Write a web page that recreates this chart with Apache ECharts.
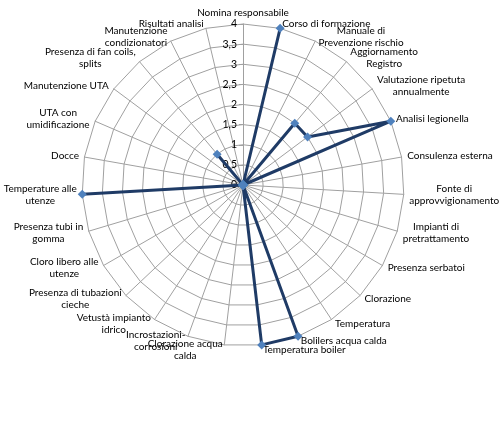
<!DOCTYPE html>
<html>
<head>
    <meta charset="utf-8">
    <title>Radar</title>
    <script src="https://cdn.jsdelivr.net/npm/echarts@6/dist/echarts.min.js"></script>
    <style>
        html, body { margin: 0; padding: 0; background: #fff; }
    </style>
</head>
<body>
    <div id="main" style="width: 500px;height:429px;"></div>
    <script type="text/javascript">
    // voci del radar, in senso orario partendo dall'alto
    var categories = [
        'Nomina responsabile', 'Corso di formazione', 'Manuale di\nPrevenzione rischio',
        'Aggiornamento\nRegistro', 'Valutazione ripetuta\nannualmente', 'Analisi legionella',
        'Consulenza esterna', 'Fonte di\napprovvigionamento', 'Impianti di\npretrattamento',
        'Presenza serbatoi', 'Clorazione', 'Temperatura', 'Bolilers acqua calda',
        'Temperatura boiler', 'Clorazione acqua\ncalda', 'Incrostazioni-\ncorrosioni',
        'Vetustà impianto\nidrico', 'Presenza di tubazioni\ncieche', 'Cloro libero alle\nutenze',
        'Presenza tubi in\ngomma', 'Temperature alle\nutenze', 'Docce', 'UTA con\numidificazione',
        'Manutenzione UTA', 'Presenza di fan coils,\nsplits', 'Manutenzione\ncondizionatori',
        'Risultati analisi'
    ];
    var values = [0, 4, 0, 2, 2, 4, 0, 0, 0, 0, 0, 0, 4, 4, 0, 0, 0, 0, 0, 0, 4, 0, 0, 0, 1, 0, 0];
    var axisMin = 0;
    var axisMax = 4;
    var steps = 8; // 0, 0,5, 1 ... 4

    var fontName = 'Lato';
    var fontSize = 10;
    var gridColor = '#a0a0a0';

    var myChart = echarts.init(document.getElementById('main'));

    // il radar di echarts gira in senso antiorario: tengo la prima voce e inverto le altre
    var order = [0];
    for (var k = categories.length - 1; k > 0; k--) order.push(k);

    // etichette su due righe centrate come in Excel: blocco largo quanto la riga più lunga
    var ctx = document.createElement('canvas').getContext('2d');
    ctx.font = fontSize + 'px ' + fontName;
    var rich = {};
    categories.forEach(function (c, i) {
        var w = 0;
        c.split('\n').forEach(function (l) { w = Math.max(w, ctx.measureText(l).width); });
        rich['c' + i] = { width: Math.ceil(w) + 1, align: 'center' };
    });

    var indicator = order.map(function (i) {
        var ind = { name: categories[i], min: axisMin, max: axisMax };
        if (i === 0) {
            // solo l'asse verticale mostra valori e tacche
            ind.axisLabel = {
                show: true,
                color: '#000',
                fontSize: 10.5,
                fontFamily: fontName,
                margin: 6,
                formatter: function (v) { return String(v).replace('.', ','); }
            };
            ind.axisTick = { show: true, length: 4, lineStyle: { color: gridColor } };
        }
        return ind;
    });
    var seriesValues = order.map(function (i) { return values[i]; });

    var option = {
        textStyle: { fontFamily: fontName },
        radar: {
            center: [243, 185],
            radius: 161,
            startAngle: 90,
            shape: 'polygon',
            splitNumber: steps,
            indicator: indicator,
            nameGap: 5,
            axisName: {
                color: '#000',
                fontSize: fontSize,
                fontFamily: fontName,
                lineHeight: 12,
                rich: rich,
                formatter: function (name) {
                    var i = categories.indexOf(name);
                    return name.split('\n').map(function (l) {
                        return '{c' + i + '|' + l + '}';
                    }).join('\n');
                }
            },
            axisLine: { lineStyle: { color: gridColor, width: 1 } },
            splitLine: { lineStyle: { color: gridColor, width: 1 } },
            splitArea: { show: false },
            axisTick: { show: false },
            axisLabel: { show: false }
        },
        series: [{
            type: 'radar',
            symbol: 'diamond',
            symbolSize: 9,
            lineStyle: { color: '#1f3b66', width: 3 },
            itemStyle: { color: '#4f81bd' },
            data: [{ value: seriesValues }]
        }]
    };

    myChart.setOption(option);
    </script>
</body>
</html>
